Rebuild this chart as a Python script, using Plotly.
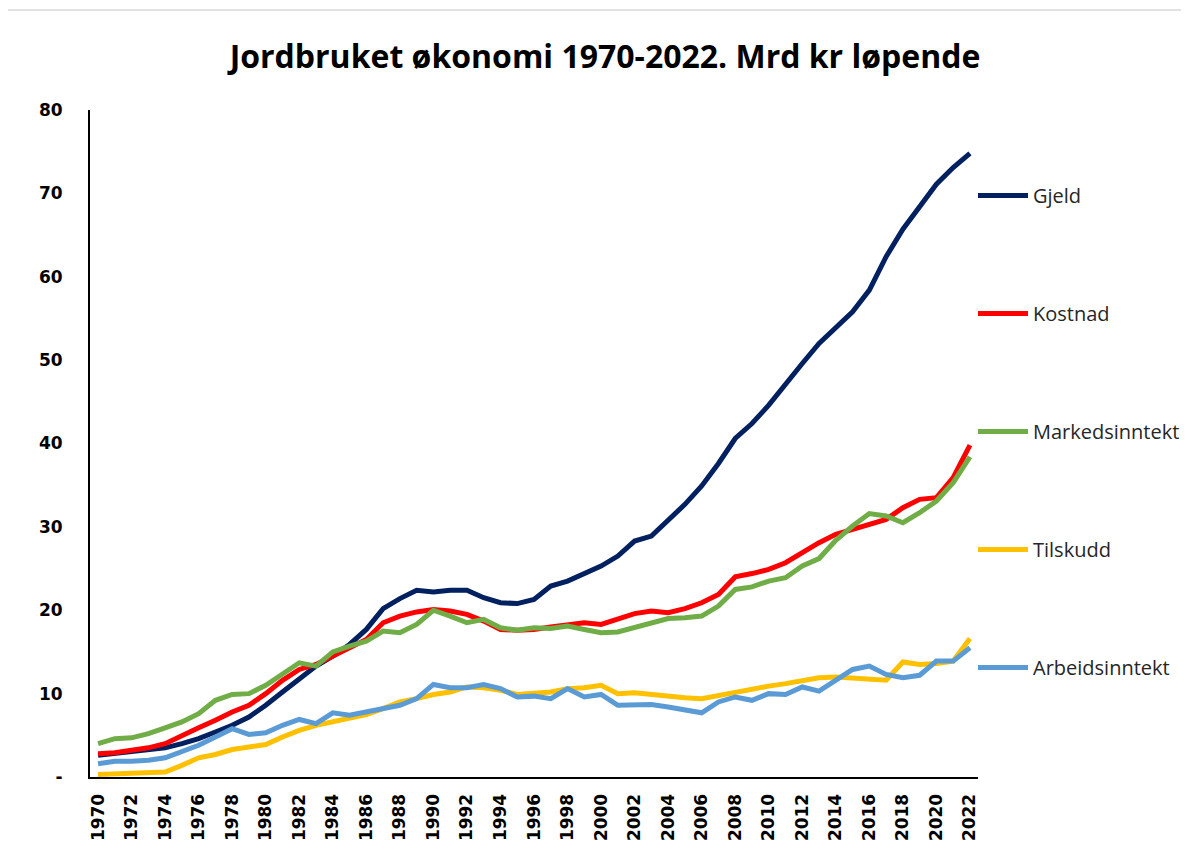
import plotly.graph_objects as go

years = list(range(1970, 2023))

gjeld = [2.6, 2.8, 3.0, 3.2, 3.5, 4.0, 4.6, 5.4, 6.2, 7.2,
         8.6, 10.2, 11.8, 13.3, 14.5, 15.9, 17.7, 20.2, 21.4, 22.4,
         22.2, 22.4, 22.4, 21.5, 20.9, 20.8, 21.3, 22.9, 23.5, 24.4,
         25.3, 26.5, 28.3, 28.9, 30.7, 32.7, 34.9, 37.6, 40.6, 42.4,
         44.6, 47.2, 49.6, 52.0, 53.8, 55.8, 58.4, 62.4, 65.7, 68.5,
         71.1, 73.1, 74.8]

kostnad = [2.8, 2.9, 3.2, 3.5, 4.0, 5.0, 5.9, 6.8, 7.8, 8.6,
           10.0, 11.6, 12.9, 13.5, 14.5, 15.5, 16.5, 18.5, 19.3, 19.8,
           20.1, 19.9, 19.5, 18.7, 17.7, 17.6, 17.7, 18.0, 18.2, 18.5,
           18.3, 19.0, 19.6, 19.9, 19.7, 20.2, 20.9, 21.9, 24.0, 24.4,
           24.9, 25.7, 26.9, 28.1, 29.1, 29.7, 30.2, 30.9, 32.3, 33.3,
           33.5, 35.9, 39.8]

markedsinntekt = [4.0, 4.6, 4.7, 5.2, 5.9, 6.6, 7.6, 9.2, 9.9, 10.0,
                  11.0, 12.3, 13.7, 13.3, 15.0, 15.7, 16.3, 17.5, 17.3, 18.3,
                  20.0, 19.3, 18.5, 18.9, 17.9, 17.6, 17.9, 17.8, 18.1, 17.7,
                  17.3, 17.4, 17.9, 18.5, 19.0, 19.1, 19.3, 20.5, 22.5, 22.8,
                  23.5, 23.9, 25.3, 26.2, 28.4, 30.1, 31.6, 31.3, 30.5, 31.7,
                  33.1, 35.3, 38.4]

tilskudd = [0.3, 0.4, 0.5, 0.6, 0.6, 1.4, 2.3, 2.7, 3.3, 3.6,
            3.9, 4.8, 5.6, 6.2, 6.6, 7.0, 7.5, 8.2, 9.0, 9.4,
            9.9, 10.2, 10.8, 10.7, 10.4, 9.9, 10.0, 10.2, 10.6, 10.7,
            11.0, 10.0, 10.1, 9.9, 9.6, 9.5, 9.4, 9.8, 10.2, 10.6,
            10.9, 11.2, 11.6, 11.9, 12.0, 11.9, 11.7, 11.6, 13.8, 13.5,
            13.6, 13.9, 16.6]

arbeidsinntekt = [1.6, 1.9, 1.9, 2.0, 2.3, 3.0, 3.8, 4.8, 5.8, 5.1,
                  5.3, 6.2, 6.9, 6.4, 7.7, 7.4, 7.8, 8.3, 8.6, 9.4,
                  11.1, 10.7, 10.7, 11.1, 10.6, 9.6, 9.7, 9.4, 10.6, 9.6,
                  9.9, 8.6, 8.7, 8.7, 8.4, 8.1, 7.7, 9.0, 9.6, 9.2,
                  10.0, 9.9, 10.8, 10.3, 11.6, 12.9, 13.3, 12.3, 11.9, 12.2,
                  13.9, 13.9, 15.5]

series_names = ["Gjeld", "Kostnad", "Markedsinntekt", "Tilskudd", "Arbeidsinntekt"]
series_values = [gjeld, kostnad, markedsinntekt, tilskudd, arbeidsinntekt]
series_colors = ["#002060", "#FF0000", "#70AD47", "#FFC000", "#5B9BD5"]

y_tickvals = [0, 10, 20, 30, 40, 50, 60, 70, 80]
y_ticktext = ["-", "10", "20", "30", "40", "50", "60", "70", "80"]
x_tickvals = list(range(1970, 2023, 2))

fig = go.Figure()
for name, vals, col in zip(series_names, series_values, series_colors):
    fig.add_trace(go.Scatter(
        x=years, y=vals, mode="lines", name=name,
        line=dict(color=col, width=5),
        legendgroup=name,
    ))

# figure is placed 8px from the page corner by the default body margin
W, H = 1181, 842
L, R, T, B = 82, 970, 102, 769

fig.update_layout(
    width=W, height=H,
    margin=dict(l=L, r=W - R, t=T, b=H - B, pad=0, autoexpand=False),
    paper_bgcolor="white", plot_bgcolor="white",
    title=dict(
        text="<b>Jordbruket økonomi 1970-2022. Mrd kr løpende</b>",
        x=597 / W, xanchor="center", xref="container",
        y=1 - 49 / H, yanchor="middle", yref="container",
        font=dict(family="Open Sans", size=32, color="black"),
    ),
    xaxis=dict(
        range=[1969.52, 2022.48],
        tickmode="array", tickvals=x_tickvals,
        ticktext=[str(v) for v in x_tickvals],
        tickangle=-90,
        tickfont=dict(family="DejaVu Sans", size=17, color="black", weight="bold"),
        showline=True, linecolor="black", linewidth=2,
        showgrid=False, zeroline=False, ticks="",
        ticklabelstandoff=8,
    ),
    yaxis=dict(
        range=[0, 80],
        tickmode="array", tickvals=y_tickvals, ticktext=y_ticktext,
        tickfont=dict(family="DejaVu Sans", size=17, color="black", weight="bold"),
        showline=True, linecolor="black", linewidth=2,
        showgrid=False, zeroline=False, ticks="",
        ticklabelstandoff=22,
    ),
    legend=dict(
        x=(965 - L) / (R - L), xanchor="left",
        y=(B - 168) / (B - T), yanchor="top",
        font=dict(family="Open Sans", size=20, color="#262626"),
        tracegroupgap=89,
        itemwidth=50,
        bgcolor="rgba(0,0,0,0)",
    ),
    showlegend=True,
)

fig.add_shape(type="rect", xref="paper", yref="paper",
              x0=(-3 - L) / (R - L), x1=(1300 - L) / (R - L),
              y0=(B - 900) / (B - T), y1=(B - 2) / (B - T),
              line=dict(color="#D9D9D9", width=1.5), fillcolor="rgba(0,0,0,0)",
              layer="below")

fig.write_html("out.html")
